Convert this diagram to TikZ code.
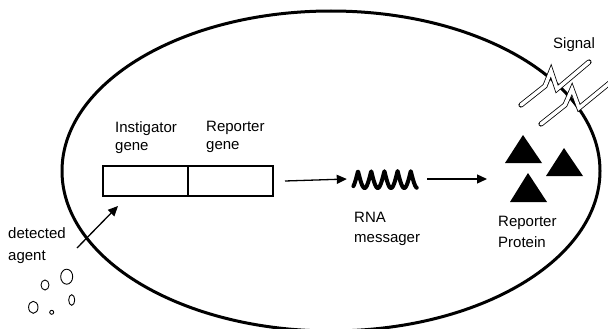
\documentclass[tikz,border=0pt]{standalone}
\usepackage{fontspec}
\setmainfont{Liberation Sans}
\usetikzlibrary{
	positioning,
	calc,
	arrows.meta
}

\begin{document}
\begin{tikzpicture}[
		x=1pt, y=-1pt,
		labeltext/.style={font=\fontsize{15}{18}\selectfont, align=left, inner sep=0pt, anchor=north west},
		genebox/.style={draw, line width=2pt, minimum width=85pt, minimum height=30pt, inner sep=0pt, outer sep=0pt},
		flow/.style={-{Triangle[length=10pt, width=9pt]}, line width=1.3pt},
		rnacoil/.style={line width=4pt, line join=round, line cap=round},
		signalbar/.style={draw=black, double=white, double distance=3.5pt, line width=0.8pt, line cap=round},
		particle/.style={line width=0.9pt},
		protein/.style={fill=black}
	]

	\clip (0,0) rectangle (608,329);

	\draw[line width=3pt] (331,171) ellipse [x radius=269, y radius=160];

	\node[genebox] (instigator) at (145.5,181) {};
	\node[genebox, right=0pt of instigator] (reporter) {};

	\node[labeltext] (instigatorlabel) at (115,121) {Instigator\\gene};
	\node[labeltext] (reporterlabel) at (206,121) {Reporter\\gene};

	\node[minimum width=64pt, minimum height=18pt, inner sep=0pt] (rna) at (385,179) {};
	\draw[rnacoil] plot[domain=-0.35:4.45, samples=160] ({358+13.2*\x}, {171+17*abs(sin(180*\x))});
	\node[labeltext, font=\fontsize{15}{20}\selectfont] (rnalabel) at (354,212) {RNA\\messager};

	\fill[protein] (523,135) -- (542,163) -- (505,163) -- cycle;
	\fill[protein] (564,148) -- (583,176) -- (546,176) -- cycle;
	\fill[protein] (528,173) -- (547,202) -- (510,202) -- cycle;
	\coordinate (protein) at (487,179);
	\node[labeltext, font=\fontsize{15}{21}\selectfont] (proteinlabel) at (498,216) {Reporter\\Protein};

	\draw[flow] ($(reporter.east)+(12,0)$) -- ($(rna.west)+(-6,0)$);
	\draw[flow] ($(rna.east)+(10,0)$) -- (protein);

	\draw[signalbar] (521,105) -- (545,86) -- (551,71) -- (557,89) -- (589,62);
	\draw[signalbar] (541,124) -- (565,105) -- (572,89) -- (579,108) -- (612,81);
	\node[labeltext] (signallabel) at (553,37) {Signal};

	\node[labeltext, font=\fontsize{15}{22}\selectfont] (agentlabel) at (8,227) {detected\\agent};
	\coordinate (agentin) at (77,248);
	\draw[flow] (agentin) -- ($(instigator.south west)+(15,10)$);

	\draw[particle] (66.7,276.7) ellipse [x radius=6, y radius=7.5];
	\draw[particle] (45,285) ellipse [x radius=4, y radius=5];
	\draw[particle] (33.3,307.3) ellipse [x radius=4.7, y radius=6];
	\draw[particle] (51.7,312.3) circle [radius=2];
	\draw[particle] (71.7,300) ellipse [x radius=3, y radius=5.3];

\end{tikzpicture}
\end{document}
